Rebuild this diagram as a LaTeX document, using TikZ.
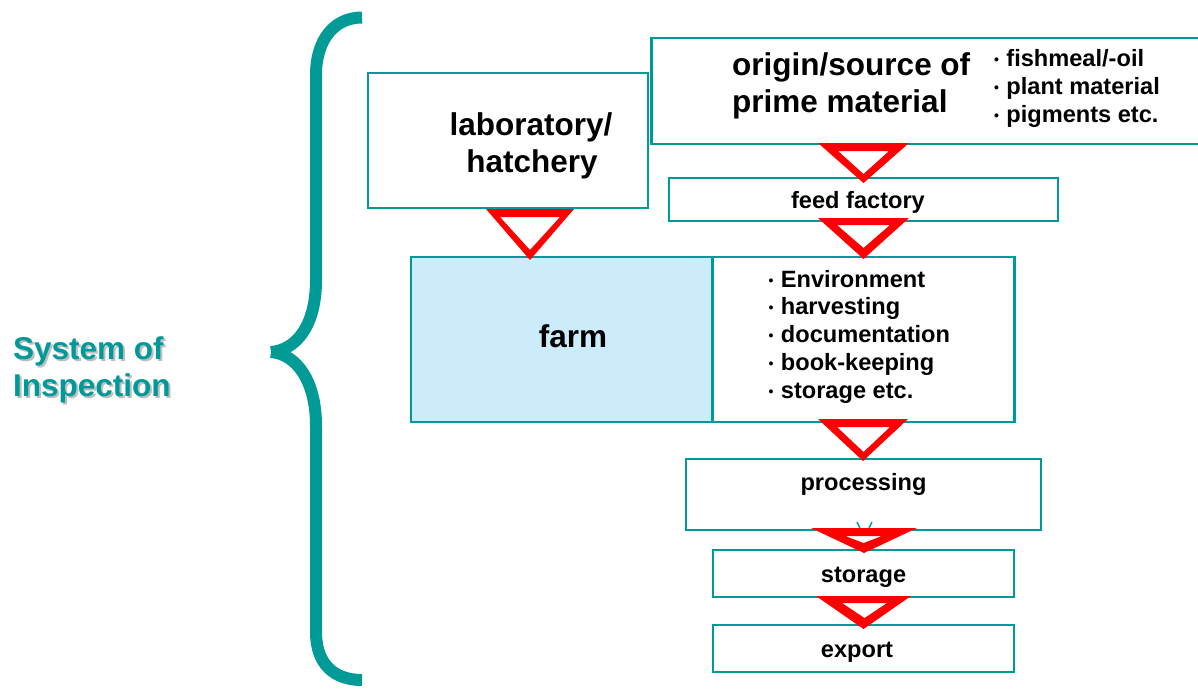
\documentclass[tikz,border=0pt]{standalone}
\usepackage{fontspec}
\setmainfont{Liberation Sans}
\definecolor{tealbox}{HTML}{009999}
\definecolor{tealbrace}{HTML}{009B96}
\definecolor{farmblue}{HTML}{CCECFC}
\definecolor{shadowgray}{HTML}{BEBEBE}
\newcommand{\yieldmark}[8]{%
  \fill[red, even odd rule] (#1,#3) -- (#2,#3) -- ({(#1+#2)/2},#4) -- cycle
        (#5,#7) -- (#6,#7) -- ({(#5+#6)/2},#8) -- cycle;}
\newcommand{\blt}{\makebox[13.2pt][l]{\hspace{1pt}\raisebox{1.8pt}{\fontsize{14}{14}\selectfont •}}}
\begin{document}
\begin{tikzpicture}[x=1pt,y=-1pt,
  box/.style={draw=tealbox, line width=2.6pt, fill=white, rectangle, inner sep=0pt, outer sep=0pt},
  bigtxt/.style={font=\bfseries\fontsize{31.5}{37}\selectfont, inner sep=0pt, text=black},
  smalltxt/.style={font=\bfseries\fontsize{23.6}{28}\selectfont, inner sep=0pt, text=black},
  sysA/.style={font=\bfseries\fontsize{31.5}{37}\selectfont, inner sep=0pt, text=tealbox},
  sysS/.style={font=\bfseries\fontsize{31.5}{37}\selectfont, inner sep=0pt, text=shadowgray},
  bracestyle/.style={draw=tealbrace, line width=12pt, line cap=butt}
]
\useasboundingbox (0,0) rectangle (1198,691);

% brace
\draw[bracestyle] (362,17.5) .. controls (334,17.5) and (316,40) .. (316,75)
   -- (316,280) .. controls (316,326) and (296,350) .. (271,352);
\draw[bracestyle] (271,352) .. controls (296,354) and (316,380) .. (316,426)
   -- (316,632) .. controls (316,664) and (334,680) .. (362,680);

% System of Inspection
\node[sysS, anchor=base west] (sysAs) at (15,361) {System of};
\node[sysS, anchor=base west] (sysBs) at (15,398) {Inspection};
\node[sysA, anchor=base west] (sysA) at (13,359) {System of};
\node[sysA, anchor=base west] (sysB) at (13,396) {Inspection};

% boxes
\node[box, minimum width=559pt, minimum height=106pt] (orig) at (931,91) {};
\node[box, minimum width=280pt, minimum height=135pt] (lab) at (508,140.5) {};
\node[box, minimum width=389pt, minimum height=43pt] (feed) at (863.5,199.5) {};
\node[box, fill=farmblue, minimum width=301pt, minimum height=165pt] (farmL) at (561.5,339.5) {};
\node[box, minimum width=302pt, minimum height=165pt] (farmR) at (863.5,339.5) {};
\node[box, minimum width=355pt, minimum height=71pt] (proc) at (863.5,494.5) {};
\node[box, minimum width=301pt, minimum height=47pt] (stor) at (863.5,573.5) {};
\node[box, minimum width=301pt, minimum height=47pt] (expo) at (863.5,648.5) {};

% small teal marks inside processing box
\draw[tealbox, line width=1.4pt] (857,522) -- (860,528);
\draw[tealbox, line width=1.4pt] (872,522) -- (869,528);

% red yield triangles (flow markers)
\yieldmark{818}{909}{143}{183}{838}{889}{151}{174}
\yieldmark{818}{909}{218}{259}{837}{890}{225}{248}
\yieldmark{486}{574}{209}{260}{500}{560}{217}{250}
\yieldmark{818}{908}{419}{461}{837}{890}{427}{452}
\yieldmark{811}{917}{528}{553}{845}{882}{536}{543}
\yieldmark{816}{911}{596}{629}{842}{887}{603}{618}

% texts
\node[bigtxt, anchor=base] (labA) at (531,135) {laboratory/};
\node[bigtxt, anchor=base] (labB) at (532,172) {hatchery};
\node[bigtxt, anchor=base west] (origA) at (732,75) {origin/source of};
\node[bigtxt, anchor=base west] (origB) at (732,112) {prime material};
\node[smalltxt, anchor=base west] (oL1) at (993,66) {\blt fishmeal/-oil};
\node[smalltxt, anchor=base west] (oL2) at (993,94) {\blt plant material};
\node[smalltxt, anchor=base west] (oL3) at (993,122) {\blt pigments etc.};
\node[smalltxt, anchor=base] (feedT) at (858,208) {feed factory};
\node[bigtxt, anchor=base] (farmT) at (573,347) {farm};
\node[smalltxt, anchor=base west] (fL1) at (767.5,287) {\blt Environment};
\node[smalltxt, anchor=base west] (fL2) at (767.5,314) {\blt harvesting};
\node[smalltxt, anchor=base west] (fL3) at (767.5,342) {\blt documentation};
\node[smalltxt, anchor=base west] (fL4) at (767.5,370) {\blt book-keeping};
\node[smalltxt, anchor=base west] (fL5) at (767.5,398) {\blt storage etc.};
\node[smalltxt, anchor=base] (procT) at (863.5,490) {processing};
\node[smalltxt, anchor=base] (storT) at (863.5,582) {storage};
\node[smalltxt, anchor=base] (expoT) at (857,657) {export};
\end{tikzpicture}
\end{document}
